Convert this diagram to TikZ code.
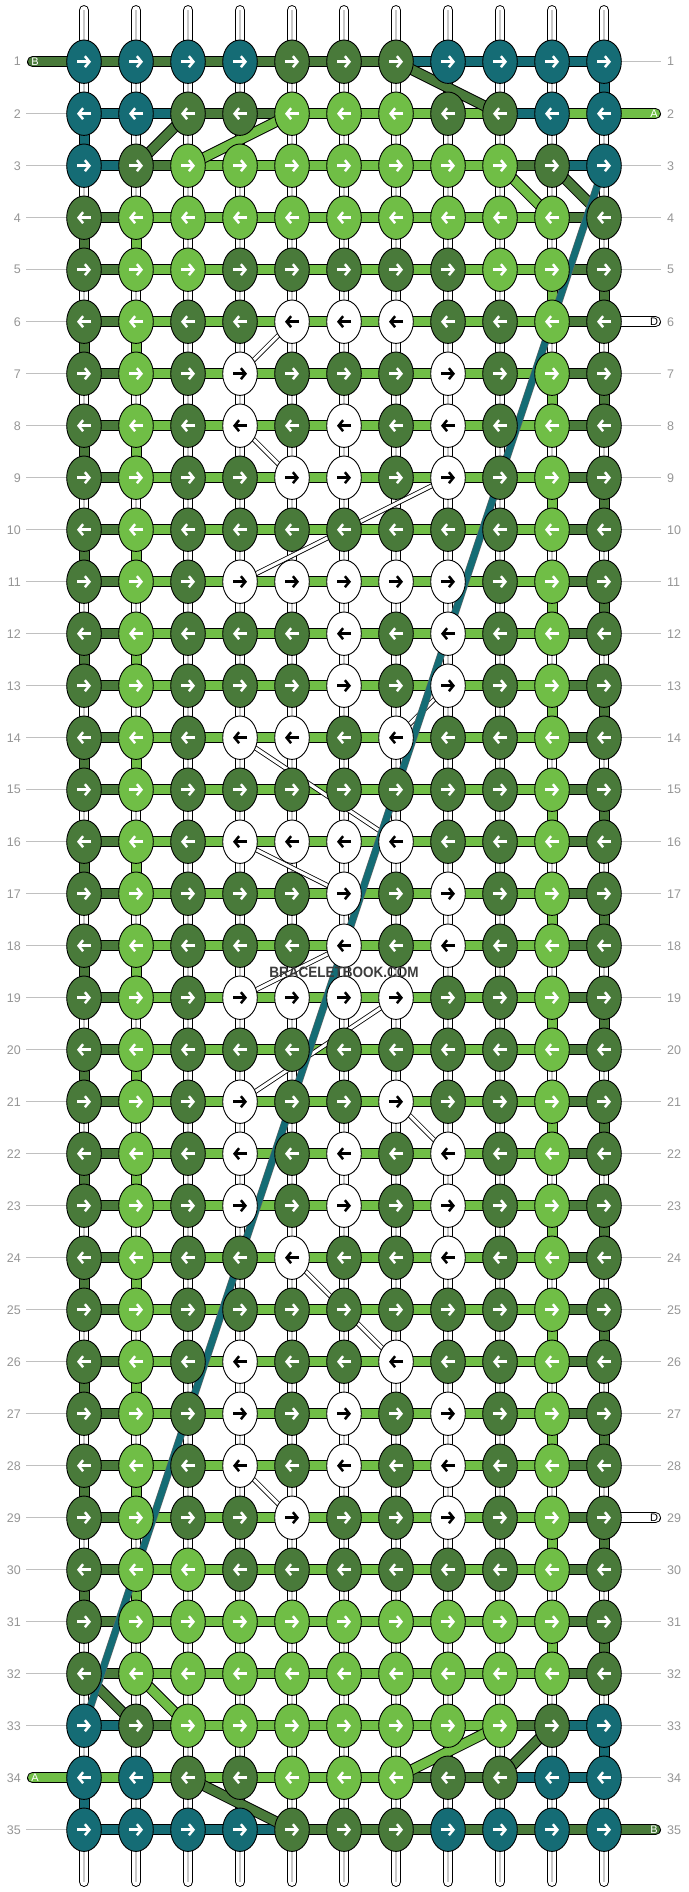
\documentclass[tikz,border=0pt]{standalone}
\usepackage{fontspec}
\usepackage{graphicx}
\setmainfont{Liberation Sans}
\usetikzlibrary{shapes.geometric,arrows.meta}
\definecolor{cT}{RGB}{21,108,117}
\definecolor{cD}{RGB}{73,122,58}
\definecolor{cL}{RGB}{112,190,70}
\definecolor{cW}{RGB}{255,255,255}
\colorlet{aT}{white}\colorlet{aD}{white}\colorlet{aL}{white}\colorlet{aW}{black}
\definecolor{numgray}{RGB}{150,150,150}
\definecolor{linegray}{RGB}{192,192,192}
\definecolor{warpgray}{RGB}{200,200,200}
\definecolor{wmgray}{RGB}{60,60,60}
\pgfdeclarelayer{back}\pgfdeclarelayer{bars}\pgfdeclarelayer{diag}\pgfdeclarelayer{front}
\pgfsetlayers{back,bars,diag,main,front}
\begin{document}
\begin{tikzpicture}[x=1pt,y=-1pt,
  knot/.style={ellipse, draw=black, line width=0.9pt, minimum width=34.6pt, minimum height=43.4pt, inner sep=0pt},
  strand/.style={line width=1pt, draw=black, double=#1, double distance=9pt},
  warp/.style={line width=1pt, draw=black, double=white, double distance=8.5pt, line cap=round},
  warpmid/.style={line width=1.1pt, draw=warpgray},
  dthread/.style={line width=0.8pt, draw=black, double=white, double distance=3.2pt},
  tealthread/.style={line width=0.6pt, draw=black!60, double=cT, double distance=6.5pt},
  rowline/.style={draw=linegray, line width=1pt},
  num/.style={text=numgray, font=\fontsize{12.5}{14}\selectfont, inner sep=0pt},
  endlabel/.style={font=\fontsize{11}{12}\selectfont, inner sep=0pt},
  arr/.style={line width=2.5pt, -{Straight Barb[length=4.5pt,width=11pt]}}
]
\useasboundingbox (0,0) rectangle (688,1892);
% knots
\foreach \row [count=\r] in {
 {T,T,T,T,D,D,D,T,T,T,T},
 {T,T,D,D,L,L,L,D,D,T,T},
 {T,D,L,L,L,L,L,L,L,D,T},
 {D,L,L,L,L,L,L,L,L,L,D},
 {D,L,L,D,D,D,D,D,L,L,D},
 {D,L,D,D,W,W,W,D,D,L,D},
 {D,L,D,W,D,D,D,W,D,L,D},
 {D,L,D,W,D,W,D,W,D,L,D},
 {D,L,D,D,W,W,D,W,D,L,D},
 {D,L,D,D,D,D,D,D,D,L,D},
 {D,L,D,W,W,W,W,W,D,L,D},
 {D,L,D,D,D,W,D,W,D,L,D},
 {D,L,D,D,D,W,D,W,D,L,D},
 {D,L,D,W,W,D,W,D,D,L,D},
 {D,L,D,D,D,D,D,D,D,L,D},
 {D,L,D,W,W,W,W,D,D,L,D},
 {D,L,D,D,D,W,D,W,D,L,D},
 {D,L,D,D,D,W,D,W,D,L,D},
 {D,L,D,W,W,W,W,D,D,L,D},
 {D,L,D,D,D,D,D,D,D,L,D},
 {D,L,D,W,D,D,W,D,D,L,D},
 {D,L,D,W,D,W,D,W,D,L,D},
 {D,L,D,W,D,W,D,W,D,L,D},
 {D,L,D,D,W,D,D,W,D,L,D},
 {D,L,D,D,D,D,D,D,D,L,D},
 {D,L,D,W,D,D,W,D,D,L,D},
 {D,L,D,W,D,W,D,W,D,L,D},
 {D,L,D,W,D,W,D,W,D,L,D},
 {D,L,D,D,W,D,D,W,D,L,D},
 {D,L,L,D,D,D,D,D,D,L,D},
 {D,L,L,L,L,L,L,L,L,L,D},
 {D,L,L,L,L,L,L,L,L,L,D},
 {T,D,L,L,L,L,L,L,L,D,T},
 {T,T,D,D,L,L,L,D,D,T,T},
 {T,T,T,T,D,D,D,T,T,T,T}}{
  \pgfmathsetmacro\y{61.7+52*(\r-1)}
  \foreach \k [count=\c] in \row {
    \pgfmathsetmacro\x{84+52*(\c-1)}
    \node[knot, fill=c\k] (n-\r-\c) at (\x,\y) {};
    \ifodd\r\relax
      \draw[arr, draw=a\k] (\x-7,\y) -- (\x+7,\y);
    \else
      \draw[arr, draw=a\k] (\x+7,\y) -- (\x-7,\y);
    \fi
  }
}
% background, warp, row lines, numbers
\begin{pgfonlayer}{back}
\fill[white] (0,0) rectangle (688,1892);
\foreach \c in {1,...,11}{
  \pgfmathsetmacro\x{84+52*(\c-1)}
  \coordinate (wt-\c) at (\x,10.3);
  \coordinate (wb-\c) at (\x,1881.7);
  \draw[warp] (wt-\c) -- (wb-\c);
  \draw[warpmid] (wt-\c) -- (wb-\c);
}
\foreach \r in {1,...,35}{
  \pgfmathsetmacro\y{61.7+52*(\r-1)}
  \node[num, anchor=east] (ln-\r) at (21,\y) {\r};
  \node[num, anchor=west] (rn-\r) at (667,\y) {\r};
  \coordinate (la-\r) at (26,\y);
  \coordinate (ra-\r) at (661,\y);
  \ifnum\r=1 \else\ifnum\r=34 \else
    \draw[rowline] (la-\r) -- (n-\r-1.center);
  \fi\fi
  \ifnum\r=2 \else\ifnum\r=6 \else\ifnum\r=29 \else\ifnum\r=35 \else
    \draw[rowline] (n-\r-11.center) -- (ra-\r);
  \fi\fi\fi\fi
}
\end{pgfonlayer}
% horizontal strands and turning strands
\begin{pgfonlayer}{bars}
\foreach \r in {1,...,35}{
  \def\bl{D,L,L,L,L,L,L,L,L,D}
  \ifnum\r=1 \def\bl{D,D,D,D,D,D,T,T,T,T}\fi
  \ifnum\r=2 \def\bl{T,T,D,D,L,L,L,L,T,L}\fi
  \ifnum\r=3 \def\bl{T,D,L,L,L,L,L,L,D,T}\fi
  \ifnum\r=33 \def\bl{T,D,L,L,L,L,L,L,D,T}\fi
  \ifnum\r=34 \def\bl{L,L,L,L,L,L,D,D,T,T}\fi
  \ifnum\r=35 \def\bl{T,T,T,T,D,D,D,D,D,D}\fi
  \foreach \b [count=\c] in \bl {
    \pgfmathtruncatemacro\d{\c+1}
    \draw[strand=c\b] (n-\r-\c.center) -- (n-\r-\d.center);
  }
}
\draw[strand=cT] (n-1-11.center) -- (n-2-11.center);
\draw[strand=cT] (n-2-1.center) -- (n-3-1.center);
\draw[strand=cT] (n-33-11.center) -- (n-34-11.center);
\draw[strand=cT] (n-34-1.center) -- (n-35-1.center);
\foreach \r in {4,6,...,30}{
  \pgfmathtruncatemacro\s{\r+1}
  \draw[strand=cD] (n-\r-1.center) -- (n-\s-1.center);
  \draw[strand=cL] (n-\r-2.center) -- (n-\s-2.center);
}
\foreach \r in {5,7,...,31}{
  \pgfmathtruncatemacro\s{\r+1}
  \draw[strand=cL] (n-\r-10.center) -- (n-\s-10.center);
  \draw[strand=cD] (n-\r-11.center) -- (n-\s-11.center);
}
% string ends
\coordinate (eB1) at (32.5,61.7);
\coordinate (eA2) at (655.5,113.7);
\coordinate (eD6) at (655.5,321.7);
\coordinate (eD29) at (655.5,1517.7);
\coordinate (eA34) at (32.5,1777.7);
\coordinate (eB35) at (655.5,1829.7);
\draw[strand=cD, line cap=round] (eB1) -- (n-1-1.center);
\draw[strand=cL, line cap=round] (eA2) -- (n-2-11.center);
\draw[strand=white, line cap=round] (eD6) -- (n-6-11.center);
\draw[strand=white, line cap=round] (eD29) -- (n-29-11.center);
\draw[strand=cL, line cap=round] (eA34) -- (n-34-1.center);
\draw[strand=cD, line cap=round] (eB35) -- (n-35-11.center);
\end{pgfonlayer}
% diagonal strands
\begin{pgfonlayer}{diag}
\draw[strand=cD] (n-1-7.center) -- (n-2-9.center);
\draw[strand=cD] (n-2-3.center) -- (n-3-2.center);
\draw[strand=cL] (n-2-5.center) -- (n-3-3.center);
\draw[strand=cL] (n-3-9.center) -- (n-4-10.center);
\draw[strand=cD] (n-3-10.center) -- (n-4-11.center);
\draw[strand=cD] (n-32-1.center) -- (n-33-2.center);
\draw[strand=cL] (n-32-2.center) -- (n-33-3.center);
\draw[strand=cL] (n-33-9.center) -- (n-34-7.center);
\draw[strand=cD] (n-33-10.center) -- (n-34-9.center);
\draw[strand=cD] (n-34-3.center) -- (n-35-5.center);
\foreach \ra/\ca/\rb/\cb in {6/5/7/4, 8/4/9/5, 9/8/11/4, 13/8/14/7, 14/4/16/7, 16/4/17/6, 18/6/19/4, 19/7/21/4, 21/7/22/8, 24/5/26/7, 28/4/29/5}{
  \draw[dthread] (n-\ra-\ca.center) -- (n-\rb-\cb.center);
}
\draw[tealthread] (n-3-11.center) -- (n-33-1.center);
\end{pgfonlayer}
% labels on string ends, watermark
\begin{pgfonlayer}{front}
\node[endlabel, text=white] (lB1) at (35,61.7) {B};
\node[endlabel, text=white] (lA2) at (654,113.7) {A};
\node[endlabel, text=black] (lD6) at (654,321.7) {D};
\node[endlabel, text=black] (lD29) at (654,1517.7) {D};
\node[endlabel, text=white] (lA34) at (35,1777.7) {A};
\node[endlabel, text=white] (lB35) at (654,1829.7) {B};
\node[text=wmgray, inner sep=0pt, font=\fontsize{15}{15}\selectfont\bfseries] (wm) at (344,972) {\scalebox{0.9}[1]{BRACELETBOOK.COM}};
\end{pgfonlayer}
\end{tikzpicture}
\end{document}
